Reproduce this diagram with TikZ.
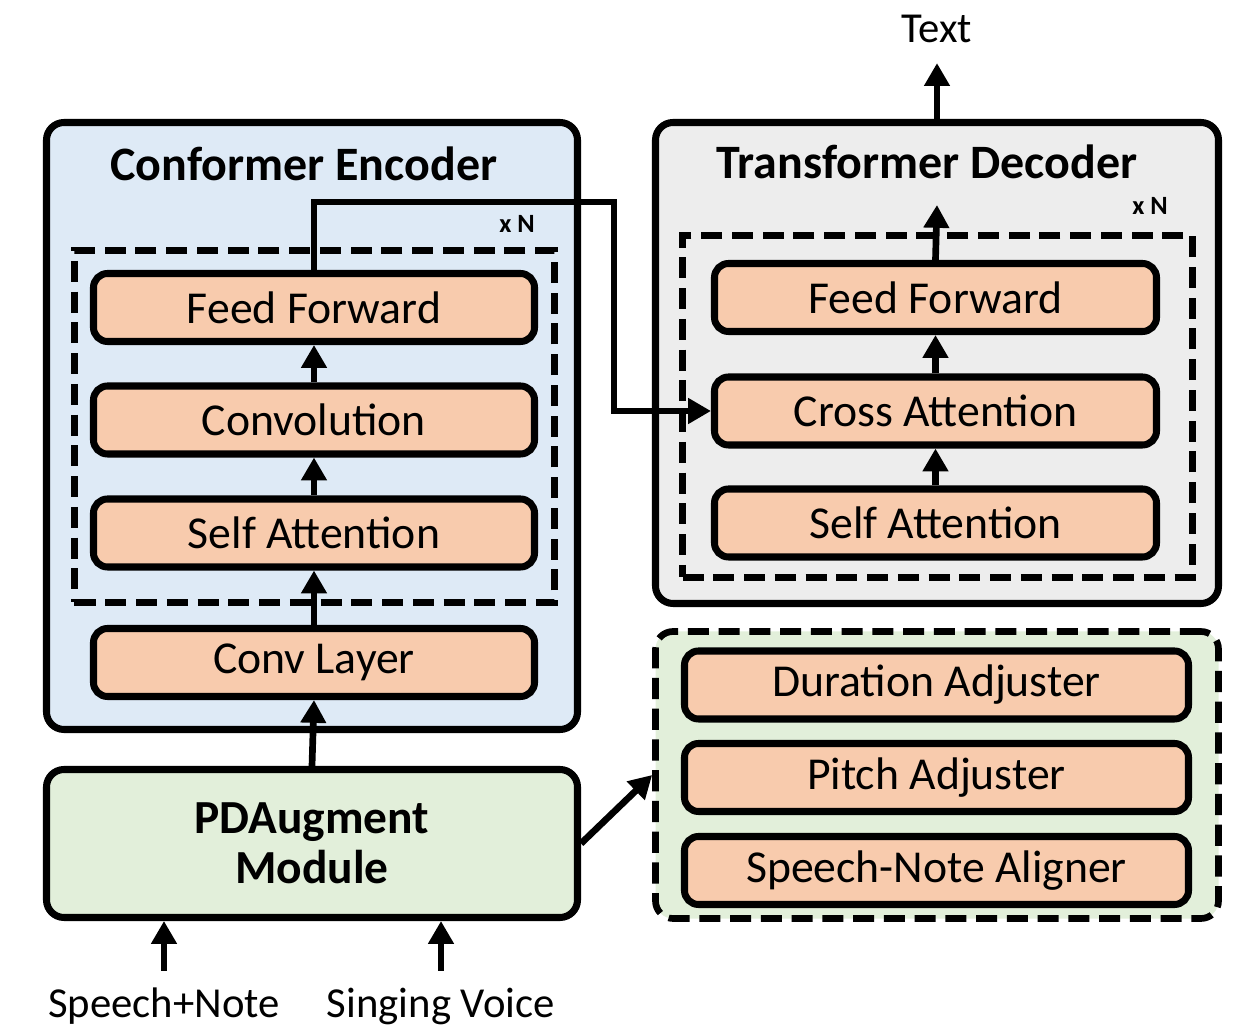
\documentclass[tikz,border=0pt]{standalone}
\usepackage{fontspec}
\setmainfont{Carlito}
\usepackage{xcolor}
\definecolor{blkorange}{RGB}{248,203,173}
\definecolor{encblue}{RGB}{222,234,246}
\definecolor{decgray}{RGB}{237,237,237}
\definecolor{augreen}{RGB}{226,239,218}
\usetikzlibrary{arrows.meta,positioning,calc}

\begin{document}
\begin{tikzpicture}[x=0.2mm, y=-0.2mm,
  blk/.style={draw, line width=4pt, fill=blkorange, rounded corners=8pt, minimum width=8.82cm, minimum height=1.36cm, font=\fontsize{26}{30}\selectfont},
  outer/.style={draw, line width=4pt, rounded corners=10pt},
  dbox/.style={draw, line width=3.8pt, dash pattern=on 12pt off 5.5pt},
  arr/.style={line width=3.8pt, -{Triangle[length=13pt,width=14pt]}},
  ttl/.style={font=\fontsize{27.3}{32}\selectfont\bfseries},
  lbl/.style={font=\fontsize{24.3}{28}\selectfont}
]
  \useasboundingbox (0,0) rectangle (1248,1031);

  %% Conformer encoder (left)
  \node[outer, fill=encblue, minimum width=10.62cm, minimum height=12.14cm] (enc) at (312,426) {};
  \node[ttl] (enctitle) at (304,164) {Conformer Encoder};
  \node[dbox, minimum width=9.6cm, minimum height=7.04cm] (encrep) at (314.5,426.5) {};
  \node[font=\fontsize{15}{18}\selectfont\bfseries] (encn) at (517,224) {x N};
  \node[blk] (ff) at (314,307.5) {Feed Forward};
  \node[blk] (conv) at (314,420) {Convolution};
  \node[blk] (sa) at (314,533) {Self Attention};
  \node[blk] (cl) at (314,662.5) {Conv Layer};

  %% PDAugment module
  \node[outer, fill=augreen, minimum width=10.62cm, minimum height=2.96cm, align=center, font=\fontsize{27}{28.5}\selectfont\bfseries] (pd) at (312,843.5) {PDAugment\\Module};

  %% Transformer decoder (right)
  \node[outer, fill=decgray, minimum width=11.26cm, minimum height=9.62cm] (dec) at (937,363) {};
  \node[ttl] (dectitle) at (927,162) {Transformer Decoder};
  \node[dbox, minimum width=10.2cm, minimum height=6.84cm] (decrep) at (937.5,406.5) {};
  \node[font=\fontsize{15}{18}\selectfont\bfseries] (decn) at (1150,206) {x N};
  \node[blk, minimum width=8.84cm] (dff) at (935.5,297.5) {Feed Forward};
  \node[blk, minimum width=8.84cm] (ca) at (935.5,411) {Cross Attention};
  \node[blk, minimum width=8.84cm] (dsa) at (935.5,523) {Self Attention};
  \coordinate (decout) at (937,205);

  %% Adjusters
  \node[dbox, fill=augreen, rounded corners=10pt, minimum width=11.26cm, minimum height=5.74cm] (adj) at (937,775) {};
  \node[blk, minimum width=10.08cm] (dur) at (936.5,685) {Duration Adjuster};
  \node[blk, minimum width=10.08cm] (pitch) at (936.5,777.5) {Pitch Adjuster};
  \node[blk, minimum width=10.08cm] (align) at (936.5,870.5) {Speech-Note Aligner};

  %% Inputs and output
  \node[lbl] (sn) at (164,1006) {Speech+Note};
  \node[lbl] (sv) at (441,1006) {Singing Voice};
  \node[lbl] (txt) at (937,29) {Text};

  %% Connections
  \draw[arr] (pd.north) -- (cl.south);
  \draw[arr] (cl.north) -- (sa.south);
  \draw[arr] (sa.north) -- (conv.south);
  \draw[arr] (conv.north) -- (ff.south);
  \coordinate (bend) at (614,202);
  \draw[arr] (ff.north) |- (bend) |- (ca.west);
  \draw[arr] (dsa.north) -- (ca.south);
  \draw[arr] (ca.north) -- (dff.south);
  \draw[arr] (dff.north) -- (decout);
  \draw[arr, shorten >=8pt] (dec.north) -- (txt.south);
  \draw[arr] (pd.east) -- (adj.west);
  \draw[arr, shorten <=6pt] (sn.north) -- (sn.north |- pd.south);
  \draw[arr, shorten <=6pt] (sv.north) -- (sv.north |- pd.south);
\end{tikzpicture}
\end{document}
